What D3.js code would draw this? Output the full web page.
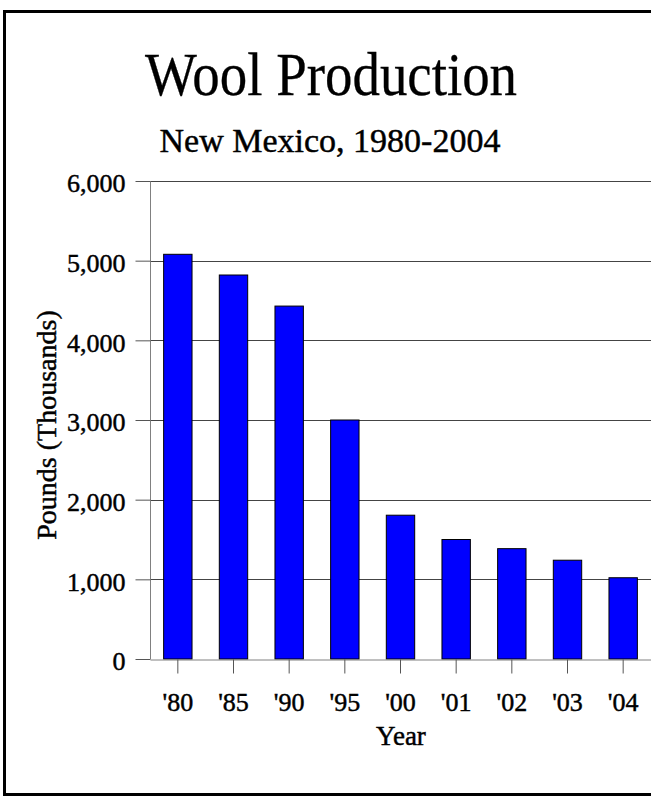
<!DOCTYPE html>
<html><head><meta charset="utf-8">
<script src="https://cdn.jsdelivr.net/npm/d3@7"></script>
<style>
html,body{margin:0;padding:0;background:#fff;}
svg{display:block;}
text{font-family:"Liberation Serif","Times New Roman",serif;fill:#000;}
.heavy{stroke:#000;stroke-width:0.45px;}
</style></head>
<body>
<script>
const years = ["'80","'85","'90","'95","'00","'01","'02","'03","'04"];
const pounds = [5080, 4820, 4430, 3000, 1805, 1500, 1385, 1240, 1020];
const yTicks = [0, 1000, 2000, 3000, 4000, 5000, 6000];

const W = 651, H = 797;
const svg = d3.select("body").append("svg").attr("width", W).attr("height", H);

// frame
svg.append("rect").attr("x", 4.5).attr("y", 11.5).attr("width", 700).attr("height", 783)
  .attr("fill", "none").attr("stroke", "#000").attr("stroke-width", 3);

const pLeft = 150, pRight = 651, pTop = 181, pBottom = 659;
const x = d3.scaleBand().domain(years).range([pLeft, pRight]).padding(0);
const y = d3.scaleLinear().domain([0, 6000]).range([pBottom, pTop]);

// title
svg.append("text").attr("transform", "translate(331,95) scale(0.9,1)").attr("text-anchor", "middle")
  .attr("class", "heavy").style("stroke-width", "0.3px")
  .style("font-size", "61px").text("Wool Production");
svg.append("text").attr("x", 330).attr("y", 152).attr("text-anchor", "middle")
  .attr("class", "heavy").style("font-size", "34px").text("New Mexico, 1980-2004");

// gridlines
svg.append("g").selectAll("line").data(yTicks.filter(d => d > 0)).join("line")
  .attr("x1", pLeft).attr("x2", pRight)
  .attr("y1", d => Math.round(y(d)) + 0.5).attr("y2", d => Math.round(y(d)) + 0.5)
  .attr("stroke", "#444").attr("stroke-width", 1);

// bars
const barW = x.bandwidth() * 0.51;
svg.append("g").selectAll("rect").data(pounds).join("rect")
  .attr("x", (d, i) => x(years[i]) + (x.bandwidth() - barW) / 2)
  .attr("y", d => y(d))
  .attr("width", barW)
  .attr("height", d => y(0) - y(d))
  .attr("fill", "#0000ff").attr("stroke", "#000").attr("stroke-width", 1);

// y axis
const yAxis = d3.axisLeft(y).tickValues(yTicks).tickSize(15).tickPadding(10)
  .tickFormat(d3.format(","));
const gy = svg.append("g").attr("transform", `translate(${pLeft + 0.5},0)`).call(yAxis);
gy.select(".domain").attr("stroke", "#808080").attr("d", `M0,${pTop}V${pBottom}`);
gy.selectAll(".tick line").attr("stroke", "#555");
gy.selectAll(".tick text").attr("class", "heavy").style("font-size", "26px")
  .style("font-family", '"Liberation Serif", serif').attr("dy", "0.42em");

// x axis
const xAxis = d3.axisBottom(x).tickSize(14).tickSizeOuter(0);
const gx = svg.append("g").attr("transform", `translate(0,${pBottom + 0.5})`).call(xAxis);
gx.select(".domain").attr("stroke", "#808080");
gx.selectAll(".tick line").attr("stroke", "#555");
gx.selectAll(".tick text").attr("class", "heavy").style("font-size", "26px")
  .style("font-family", '"Liberation Serif", serif').attr("y", 51).attr("dy", 0);

// axis titles
svg.append("text").attr("x", 401).attr("y", 745).attr("text-anchor", "middle")
  .attr("class", "heavy").style("font-size", "27px").text("Year");
svg.append("text").attr("transform", "translate(56,425) rotate(-90)").attr("text-anchor", "middle")
  .attr("class", "heavy").style("font-size", "28px").text("Pounds (Thousands)");
</script>
</body></html>
